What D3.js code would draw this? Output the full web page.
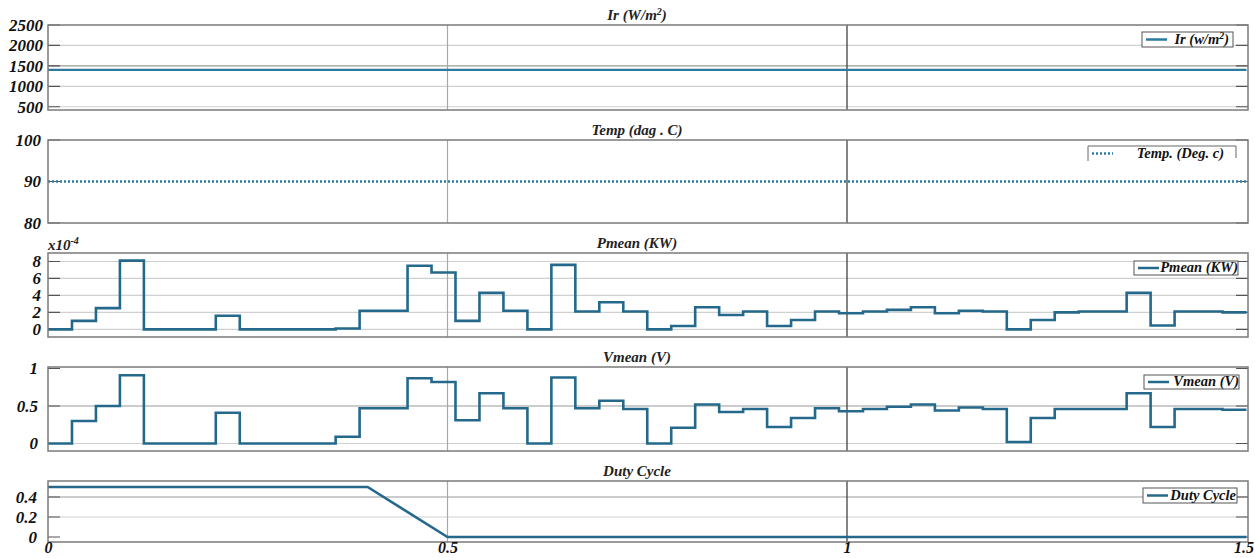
<!DOCTYPE html>
<html>
<head>
<meta charset="utf-8">
<script src="https://cdn.jsdelivr.net/npm/d3@7.9.0/dist/d3.min.js"></script>
<style>
  body { margin: 0; background: #fff; }
  svg { display: block; }
  svg text { font-family: "Liberation Serif", "Times New Roman", serif; }
  .ylab text, .xlab text { font-weight: bold; font-style: italic; font-size: 17px; fill: #111; }
  .xlab text { font-size: 16px; }
  .title { font-weight: bold; font-style: italic; font-size: 15px; fill: #222; }
  .legend text { font-weight: bold; font-style: italic; font-size: 14.5px; fill: #111; }
</style>
</head>
<body>
<svg id="chart" width="1255" height="558"></svg>
<script>
// ---- data ----
const timeTicks = [0, 0.5, 1, 1.5];
const timeGrid = [0.5, 1];

const irTimes = [0, 1.5];
const irValues = [1400, 1400];
const irTicks = [500, 1000, 1500, 2000, 2500];

const tempTimes = [0, 1.5];
const tempValues = [90, 90];
const tempTicks = [80, 90, 100];

// step boundaries (s) shared by Pmean and Vmean
const stepTimes = [0, 0.03, 0.06, 0.09, 0.12, 0.15, 0.18, 0.21, 0.24, 0.27,
  0.3, 0.33, 0.36, 0.39, 0.42, 0.45, 0.48, 0.51, 0.54, 0.57,
  0.6, 0.63, 0.66, 0.69, 0.72, 0.75, 0.78, 0.81, 0.84, 0.87,
  0.9, 0.93, 0.96, 0.99, 1.02, 1.05, 1.08, 1.11, 1.14, 1.17,
  1.2, 1.23, 1.26, 1.29, 1.32, 1.35, 1.38, 1.41, 1.44, 1.47, 1.5];

// Pmean in units of 1e-4 kW
const pmeanValues = [0, 1.0, 2.5, 8.1, 0, 0, 0, 1.6, 0, 0,
  0, 0, 0.1, 2.2, 2.2, 7.5, 6.7, 1.0, 4.3, 2.2,
  0, 7.6, 2.1, 3.2, 2.1, 0, 0.4, 2.6, 1.7, 2.1,
  0.4, 1.1, 2.1, 1.9, 2.1, 2.3, 2.6, 1.9, 2.2, 2.1,
  0, 1.1, 2.0, 2.1, 2.1, 4.3, 0.45, 2.1, 2.1, 2.0, 2.0];
const pmeanTicks = [0, 2, 4, 6, 8];

const vmeanValues = [0, 0.30, 0.50, 0.91, 0, 0, 0, 0.41, 0, 0,
  0, 0, 0.09, 0.47, 0.47, 0.87, 0.82, 0.31, 0.67, 0.47,
  0, 0.88, 0.47, 0.57, 0.46, 0, 0.21, 0.52, 0.42, 0.46,
  0.22, 0.34, 0.47, 0.43, 0.46, 0.49, 0.52, 0.44, 0.48, 0.46,
  0.02, 0.34, 0.46, 0.46, 0.46, 0.67, 0.22, 0.46, 0.46, 0.45, 0.45];
const vmeanTicks = [0, 0.5, 1];

const dutyTimes = [0, 0.4, 0.5, 1.5];
const dutyValues = [0.5, 0.5, 0, 0];
const dutyTicks = [0, 0.2, 0.4];

// ---- layout ----
const svg = d3.select('#chart');
const left = 48, right = 1248;
const x = d3.scaleLinear().domain([0, 1.5]).range([left, 1246.5]);
const lineColor = '#24698c';
const serif = '"Liberation Serif", "Times New Roman", serif';

const panels = [
  { id: 'ir', top: 25, bottom: 110, domain: [420, 2500], times: irTimes, values: irValues,
    ticks: irTicks, grid: [500, 1000, 1500, 2000], dark: [1500], fmt: d => d,
    labelX: 43, curve: d3.curveLinear, color: '#2d7aa0', width: 2.2,
    title: ['Ir (W/m', '2', ')'], legend: { x: 1142, y: 32, w: 91, h: 15, pad: 4, text: ['Ir (w/m', '2', ')'] } },
  { id: 'temp', top: 140, bottom: 223, domain: [80, 100], times: tempTimes, values: tempValues,
    ticks: tempTicks, grid: [], dark: [], fmt: d => d, dash: '2,2',
    labelX: 41, curve: d3.curveLinear, color: '#2b7ca3', width: 2.4,
    title: ['Temp (dag . C)'], legend: { x: 1088, y: 146, w: 148, h: 15, pad: 12, text: ['Temp. (Deg. c)'], open: true } },
  { id: 'pmean', top: 253, bottom: 337, domain: [-0.9, 9.0], times: stepTimes, values: pmeanValues,
    ticks: pmeanTicks, grid: [0, 2, 4, 6, 8], dark: [], fmt: d => d,
    labelX: 41, curve: d3.curveStepAfter, color: lineColor, width: 2.6,
    title: ['Pmean (KW)'], legend: { x: 1134, y: 261, w: 104, h: 14, pad: 0, text: ['Pmean (KW)'] } },
  { id: 'vmean', top: 367, bottom: 451, domain: [-0.1, 1.02], times: stepTimes, values: vmeanValues,
    ticks: vmeanTicks, grid: [0, 0.5], dark: [0.5], fmt: d => d,
    labelX: 38, curve: d3.curveStepAfter, color: lineColor, width: 2.6,
    title: ['Vmean (V)'], legend: { x: 1144, y: 375, w: 95, h: 14, pad: 0, text: ['Vmean (V)'] } },
  { id: 'duty', top: 481, bottom: 542, domain: [-0.05, 0.56], times: dutyTimes, values: dutyValues,
    ticks: dutyTicks, grid: [0.2, 0.4], dark: [0.4], fmt: d => d,
    labelX: 37, curve: d3.curveLinear, color: lineColor, width: 2.6,
    title: ['Duty Cycle'], legend: { x: 1143, y: 488, w: 94, h: 15, pad: 1, text: ['Duty Cycle'] } }
];

function addRichText(sel, parts) {
  parts.forEach((p, i) => {
    const t = sel.append('tspan').text(p);
    if (parts.length === 3 && i === 1) t.attr('dy', -5).style('font-size', '10px');
    if (parts.length === 3 && i === 2) t.attr('dy', 5);
  });
}

panels.forEach(p => {
  const y = d3.scaleLinear().domain(p.domain).range([p.bottom, p.top]);
  const g = svg.append('g').attr('class', 'panel-' + p.id);

  g.append('rect')
    .attr('x', left).attr('y', p.top)
    .attr('width', right - left).attr('height', p.bottom - p.top)
    .attr('fill', '#fff');

  // horizontal gridlines
  g.append('g').selectAll('line')
    .data(p.grid)
    .join('line')
    .attr('x1', left).attr('x2', right)
    .attr('y1', d => y(d)).attr('y2', d => y(d))
    .attr('stroke', d => p.dark.includes(d) ? '#9a9a9a' : '#d0d0d0')
    .attr('stroke-width', 1.2);

  // vertical gridlines
  g.append('g').selectAll('line')
    .data(timeGrid)
    .join('line')
    .attr('x1', d => x(d)).attr('x2', d => x(d))
    .attr('y1', p.top).attr('y2', p.bottom)
    .attr('stroke', d => d === 1 ? '#333' : '#a8a8a8')
    .attr('stroke-width', 1.2);

  // small inner ticks on both sides
  g.append('g').selectAll('path')
    .data(p.ticks)
    .join('path')
    .attr('d', d => `M${left},${y(d)}h12M${right},${y(d)}h-12`)
    .attr('stroke', '#555')
    .attr('stroke-width', 1.2);

  const clipId = 'clip-' + p.id;
  g.append('clipPath').attr('id', clipId)
    .append('rect')
    .attr('x', left).attr('y', p.top - 2)
    .attr('width', right - left).attr('height', p.bottom - p.top + 4);

  const series = p.times.map((t, i) => [t, p.values[i]]);
  const line = d3.line()
    .x(d => x(d[0]))
    .y(d => y(d[1]))
    .curve(p.curve);

  g.append('path')
    .datum(series)
    .attr('clip-path', `url(#${clipId})`)
    .attr('d', line)
    .attr('fill', 'none')
    .attr('stroke', p.color)
    .attr('stroke-width', p.width)
    .attr('stroke-dasharray', p.dash || null);

  // frame
  g.append('rect')
    .attr('x', left).attr('y', p.top)
    .attr('width', right - left).attr('height', p.bottom - p.top)
    .attr('fill', 'none')
    .attr('stroke', '#7a7a7a')
    .attr('stroke-width', 1.5);

  // y labels
  const yAxis = d3.axisLeft(y)
    .tickValues(p.ticks)
    .tickFormat(p.fmt)
    .tickSize(0)
    .tickPadding(0);
  g.append('g')
    .attr('class', 'ylab')
    .attr('transform', `translate(${p.labelX},0)`)
    .call(yAxis)
    .attr('font-family', null).attr('font-size', null)
    .call(a => a.select('.domain').remove())
    .call(a => a.selectAll('text').style('font-family', serif));

  // title
  addRichText(
    g.append('text').attr('class', 'title')
      .attr('x', 637).attr('y', p.top - 5)
      .attr('text-anchor', 'middle'),
    p.title);

  // legend
  const L = p.legend;
  const lg = g.append('g').attr('class', 'legend');
  if (L.open) {
    lg.append('path')
      .attr('d', `M${L.x},${L.y + L.h}V${L.y}H${L.x + L.w}V${L.y + L.h - 3}`)
      .attr('fill', 'none').attr('stroke', '#666');
  } else {
    lg.append('rect')
      .attr('x', L.x).attr('y', L.y).attr('width', L.w).attr('height', L.h)
      .attr('fill', '#fff').attr('stroke', '#555');
  }
  lg.append('line')
    .attr('x1', L.x + 4).attr('x2', L.x + 25)
    .attr('y1', L.y + L.h / 2).attr('y2', L.y + L.h / 2)
    .attr('stroke', p.color).attr('stroke-width', 2.5)
    .attr('stroke-dasharray', p.dash || null);
  addRichText(
    lg.append('text')
      .attr('x', L.x + L.w - L.pad).attr('y', L.y + L.h - 3)
      .attr('text-anchor', 'end'),
    L.text);
});

// exponent marker above Pmean panel
const expo = svg.append('text').attr('class', 'title')
  .attr('x', 48).attr('y', 250);
expo.append('tspan').text('x10');
expo.append('tspan').text('-4').attr('dy', -6).style('font-size', '10px');

// time axis labels
svg.append('g')
  .attr('class', 'xlab')
  .attr('transform', 'translate(0,540)')
  .call(d3.axisBottom(x).tickValues(timeTicks).tickFormat(d => d).tickSize(0).tickPadding(2))
  .attr('font-family', null).attr('font-size', null)
  .call(a => a.select('.domain').remove())
  .call(a => a.selectAll('text').style('font-family', serif))
  .call(a => a.selectAll('.tick:last-of-type text').attr('text-anchor', 'end').attr('dx', 7));
</script>
</body>
</html>
